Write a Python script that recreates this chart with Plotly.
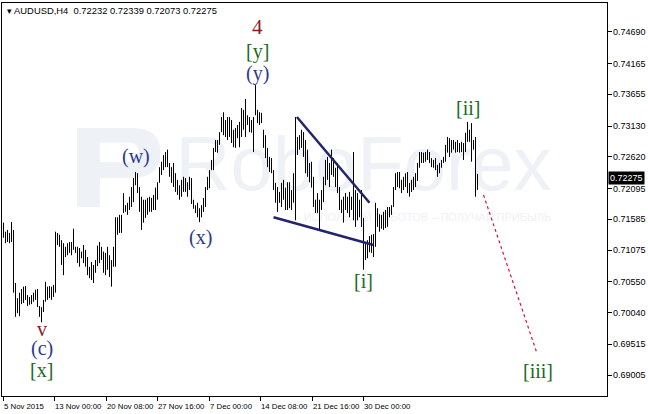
import plotly.graph_objects as go

# AUDUSD H4 bars (high / low)
highs = [
    0.7153, 0.7138, 0.7141, 0.7136, 0.7154, 0.7141, 0.7053, 0.7028, 0.7037, 0.7043,
    0.7047, 0.7048, 0.7033, 0.7030, 0.7033, 0.7037, 0.7042, 0.7043, 0.7015, 0.7013,
    0.7025, 0.7055, 0.7047, 0.7048, 0.7047, 0.7050, 0.7138, 0.7136, 0.7133, 0.7124,
    0.7119, 0.7113, 0.7119, 0.7121, 0.7121, 0.7143, 0.7113, 0.7113, 0.7111, 0.7105,
    0.7116, 0.7108, 0.7096, 0.7080, 0.7088, 0.7083, 0.7091, 0.7115, 0.7121, 0.7113,
    0.7105, 0.7103, 0.7113, 0.7099, 0.7091, 0.7113, 0.7162, 0.7162, 0.7166, 0.7166,
    0.7202, 0.7182, 0.7186, 0.7196, 0.7212, 0.7227, 0.7237, 0.7235, 0.7212, 0.7196,
    0.7191, 0.7191, 0.7194, 0.7196, 0.7194, 0.7199, 0.7211, 0.7220, 0.7245, 0.7254,
    0.7265, 0.7270, 0.7274, 0.7252, 0.7245, 0.7252, 0.7235, 0.7224, 0.7215, 0.7224,
    0.7229, 0.7227, 0.7220, 0.7229, 0.7227, 0.7191, 0.7182, 0.7186, 0.7177, 0.7182,
    0.7194, 0.7212, 0.7229, 0.7240, 0.7257, 0.7277, 0.7290, 0.7290, 0.7303, 0.7328,
    0.7336, 0.7323, 0.7328, 0.7328, 0.7323, 0.7307, 0.7310, 0.7315, 0.7320, 0.7343,
    0.7340, 0.7358, 0.7331, 0.7328, 0.7323, 0.7328, 0.7381, 0.7340, 0.7336, 0.7335,
    0.7307, 0.7298, 0.7277, 0.7262, 0.7260, 0.7240, 0.7219, 0.7212, 0.7204, 0.7219,
    0.7224, 0.7211, 0.7220, 0.7220, 0.7207, 0.7235, 0.7328, 0.7295, 0.7298, 0.7307,
    0.7303, 0.7290, 0.7274, 0.7252, 0.7254, 0.7229, 0.7191, 0.7202, 0.7191, 0.7207,
    0.7229, 0.7257, 0.7262, 0.7252, 0.7274, 0.7260, 0.7244, 0.7252, 0.7212, 0.7191,
    0.7196, 0.7202, 0.7196, 0.7204, 0.7196, 0.7270, 0.7207, 0.7202, 0.7191, 0.7207,
    0.7161, 0.7119, 0.7124, 0.7131, 0.7133, 0.7134, 0.7186, 0.7177, 0.7167, 0.7166,
    0.7171, 0.7174, 0.7179, 0.7179, 0.7182, 0.7212, 0.7235, 0.7237, 0.7237, 0.7224,
    0.7229, 0.7235, 0.7237, 0.7219, 0.7224, 0.7229, 0.7235, 0.7252, 0.7270, 0.7270,
    0.7269, 0.7270, 0.7274, 0.7270, 0.7260, 0.7257, 0.7260, 0.7249, 0.7252, 0.7257,
    0.7262, 0.7282, 0.7295, 0.7293, 0.7290, 0.7290, 0.7287, 0.7290, 0.7285, 0.7287,
    0.7285, 0.7302, 0.7320, 0.7307, 0.7318, 0.7290, 0.7295, 0.72339,
]
lows = [
    0.7128, 0.7119, 0.7121, 0.7119, 0.7121, 0.7037, 0.6997, 0.7003, 0.6998, 0.7018,
    0.7020, 0.7025, 0.7015, 0.7017, 0.7018, 0.7022, 0.7025, 0.7013, 0.6997, 0.6988,
    0.7005, 0.7022, 0.7025, 0.7028, 0.7025, 0.7030, 0.7037, 0.7116, 0.7113, 0.7083,
    0.7066, 0.7096, 0.7099, 0.7103, 0.7099, 0.7108, 0.7103, 0.7086, 0.7080, 0.7094,
    0.7086, 0.7080, 0.7066, 0.7061, 0.7058, 0.7053, 0.7070, 0.7081, 0.7086, 0.7091,
    0.7070, 0.7066, 0.7075, 0.7063, 0.7047, 0.7080, 0.7080, 0.7133, 0.7136, 0.7136,
    0.7169, 0.7171, 0.7166, 0.7174, 0.7179, 0.7187, 0.7215, 0.7202, 0.7171, 0.7141,
    0.7153, 0.7161, 0.7166, 0.7171, 0.7171, 0.7174, 0.7174, 0.7191, 0.7219, 0.7232,
    0.7240, 0.7245, 0.7245, 0.7229, 0.7219, 0.7212, 0.7204, 0.7199, 0.7191, 0.7196,
    0.7204, 0.7204, 0.7196, 0.7207, 0.7184, 0.7176, 0.7169, 0.7162, 0.7154, 0.7162,
    0.7171, 0.7179, 0.7207, 0.7210, 0.7240, 0.7240, 0.7270, 0.7269, 0.7282, 0.7303,
    0.7298, 0.7295, 0.7290, 0.7295, 0.7285, 0.7278, 0.7277, 0.7293, 0.7278, 0.7295,
    0.7307, 0.7295, 0.7315, 0.7303, 0.7302, 0.7270, 0.7331, 0.7318, 0.7315, 0.7318,
    0.7277, 0.7260, 0.7245, 0.7237, 0.7235, 0.7207, 0.7186, 0.7171, 0.7186, 0.7179,
    0.7191, 0.7174, 0.7174, 0.7177, 0.7174, 0.7186, 0.7157, 0.7265, 0.7274, 0.7277,
    0.7262, 0.7235, 0.7229, 0.7220, 0.7211, 0.7179, 0.7169, 0.7169, 0.7141, 0.7174,
    0.7187, 0.7215, 0.7224, 0.7212, 0.7232, 0.7229, 0.7212, 0.7202, 0.7174, 0.7169,
    0.7153, 0.7174, 0.7169, 0.7162, 0.7174, 0.7157, 0.7146, 0.7157, 0.7162, 0.7146,
    0.7075, 0.7091, 0.7094, 0.7104, 0.7103, 0.7096, 0.7113, 0.7146, 0.7138, 0.7143,
    0.7141, 0.7144, 0.7146, 0.7162, 0.7166, 0.7179, 0.7207, 0.7212, 0.7210, 0.7202,
    0.7207, 0.7212, 0.7202, 0.7196, 0.7204, 0.7207, 0.7212, 0.7222, 0.7244, 0.7252,
    0.7252, 0.7254, 0.7257, 0.7252, 0.7245, 0.7244, 0.7240, 0.7229, 0.7235, 0.7244,
    0.7252, 0.7254, 0.7269, 0.7262, 0.7269, 0.7274, 0.7269, 0.7270, 0.7269, 0.7270,
    0.7257, 0.7270, 0.7287, 0.7287, 0.7254, 0.7274, 0.7196, 0.72073,
]
last_bar = [0.72232, 0.72339, 0.72073, 0.72275]   # O H L C

# axes
price_ticks = [0.74690, 0.74165, 0.73655, 0.73130, 0.72620, 0.72095,
               0.71585, 0.71075, 0.70550, 0.70040, 0.69515, 0.69005]
time_tick_idx = [0, 25.5, 51.5, 77, 103, 128.5, 154.5, 180]
time_tick_text = ["5 Nov 2015", "13 Nov 00:00", "20 Nov 08:00", "27 Nov 16:00",
                  "7 Dec 00:00", "14 Dec 08:00", "21 Dec 16:00", "30 Dec 00:00"]

# wave marks: (text, bar index, price, colour)
wave_labels = [
    ("4", 127, 0.7477, "#8b1c1c"),
    ("[y]", 127, 0.7437, "#1b6b1b"),
    ("(y)", 127, 0.7400, "#2d3a8c"),
    ("(w)", 66, 0.7262, "#2d3a8c"),
    ("(x)", 98.5, 0.7129, "#2d3a8c"),
    ("v", 19, 0.6977, "#8b1c1c"),
    ("(c)", 19, 0.6944, "#2d3a8c"),
    ("[x]", 19, 0.6909, "#1b6b1b"),
    ("[i]", 180, 0.7056, "#1b6b1b"),
    ("[ii]", 232, 0.7343, "#1b6b1b"),
    ("[iii]", 267, 0.6907, "#1b6b1b"),
]
# triangle lines and forecast
upper_x, upper_y = [146.7, 183], [0.7328, 0.7186]
lower_x, lower_y = [135, 185], [0.7162, 0.7116]
fcst_x, fcst_y = [240, 266.7], [0.7199, 0.6937]

AX_FONT = "Liberation Sans, Arial, sans-serif"
WM = "#eef1f5"

fig = go.Figure()

# watermark, drawn first so it stays behind the bars
fig.add_trace(go.Scatter(x=[180], y=[0.7238], mode="text", text=["RoboForex"],
                         textfont=dict(family=AX_FONT, size=76, color=WM),
                         hoverinfo="skip", showlegend=False))
fig.add_trace(go.Scatter(x=[212], y=[0.7161], mode="text",
                         text=["ИСПОЛЬЗУЙ РОБОТОВ – ПОЛУЧАЙ ПРИБЫЛЬ"],
                         textfont=dict(family=AX_FONT, size=11, color="#eff1f5"),
                         hoverinfo="skip", showlegend=False))
# rough logo mark left of the watermark text
fig.add_shape(type="path", xref="paper", yref="paper", layer="below",
              path=("M 0.124,0.481 L 0.124,0.682 L 0.215,0.682 Q 0.262,0.682 0.262,0.62 "
                    "Q 0.262,0.555 0.215,0.555 L 0.162,0.555 L 0.162,0.481 Z "
                    "M 0.162,0.595 L 0.162,0.645 L 0.208,0.645 Q 0.226,0.645 0.226,0.62 "
                    "Q 0.226,0.595 0.208,0.595 Z"),
              fillcolor=WM, line=dict(width=0), fillrule="evenodd")

# high-low bars
bx, by = [], []
for i, (h, l) in enumerate(zip(highs, lows)):
    bx += [i, i, None]
    by += [l, h, None]
fig.add_trace(go.Scatter(x=bx, y=by, mode="lines", line=dict(color="black", width=1),
                         hoverinfo="skip", showlegend=False))

for xs, ys in [(upper_x, upper_y), (lower_x, lower_y)]:
    fig.add_trace(go.Scatter(x=xs, y=ys, mode="lines", line=dict(color="#23236e", width=2.5),
                             hoverinfo="skip", showlegend=False))
fig.add_trace(go.Scatter(x=fcst_x, y=fcst_y, mode="lines",
                         line=dict(color="#e0103c", width=1.2, dash="dot"),
                         hoverinfo="skip", showlegend=False))

for txt, xi, yp, col in wave_labels:
    fig.add_annotation(x=xi, y=yp, text=txt, showarrow=False,
                       font=dict(family="Liberation Serif, Times New Roman, serif",
                                 size=21 if txt == "4" else 20, color=col))

# time scale labels: MT4 writes them to the right of the tick
for xi, lab in zip(time_tick_idx, time_tick_text):
    fig.add_annotation(x=xi, y=0, yref="paper", text=lab, showarrow=False,
                       xanchor="left", yanchor="top", xshift=-2, yshift=-4,
                       font=dict(family=AX_FONT, size=7.8, color="black"))

# price scale labels
for v in price_ticks:
    fig.add_annotation(x=1, xref="paper", y=v, text=f"{v:.5f}", showarrow=False,
                       xanchor="left", yanchor="middle", xshift=4,
                       font=dict(family=AX_FONT, size=9, color="black"))

fig.add_annotation(x=0.005, y=0.982, xref="paper", yref="paper", showarrow=False,
                   xanchor="left", yanchor="middle",
                   text="▾ AUDUSD,H4  " + " ".join(f"{v:.5f}" for v in last_bar),
                   font=dict(family=AX_FONT, size=9.4, color="black"))

# current price tag on the price scale
fig.add_annotation(x=1, y=last_bar[3], xref="paper", showarrow=False, xanchor="left",
                   yanchor="middle", xshift=1, text=f"{last_bar[3]:.5f}", bgcolor="black",
                   borderpad=1, font=dict(family=AX_FONT, size=9, color="white"))

# 2 px per bar, bars centred on pixel columns
fig.update_xaxes(range=[-0.75, 301.75], showgrid=False, zeroline=False,
                 showline=True, linecolor="black", linewidth=1, mirror=True,
                 tickvals=time_tick_idx, ticks="outside", ticklen=4, tickcolor="black",
                 showticklabels=False)
fig.update_yaxes(range=[0.68658, 0.7517], side="right", showgrid=False, zeroline=False,
                 showline=True, linecolor="black", linewidth=1, mirror=True,
                 tickvals=price_ticks, ticks="outside", ticklen=4, tickcolor="black",
                 showticklabels=False)

fig.update_layout(width=648, height=414, margin=dict(l=2, r=41, t=3, b=18),
                  plot_bgcolor="white", paper_bgcolor="white", showlegend=False)

# the page's default body margin would push the figure off the window
fig.write_html("out.html", config={"displayModeBar": False},
               post_script="document.body.style.margin='0';")
